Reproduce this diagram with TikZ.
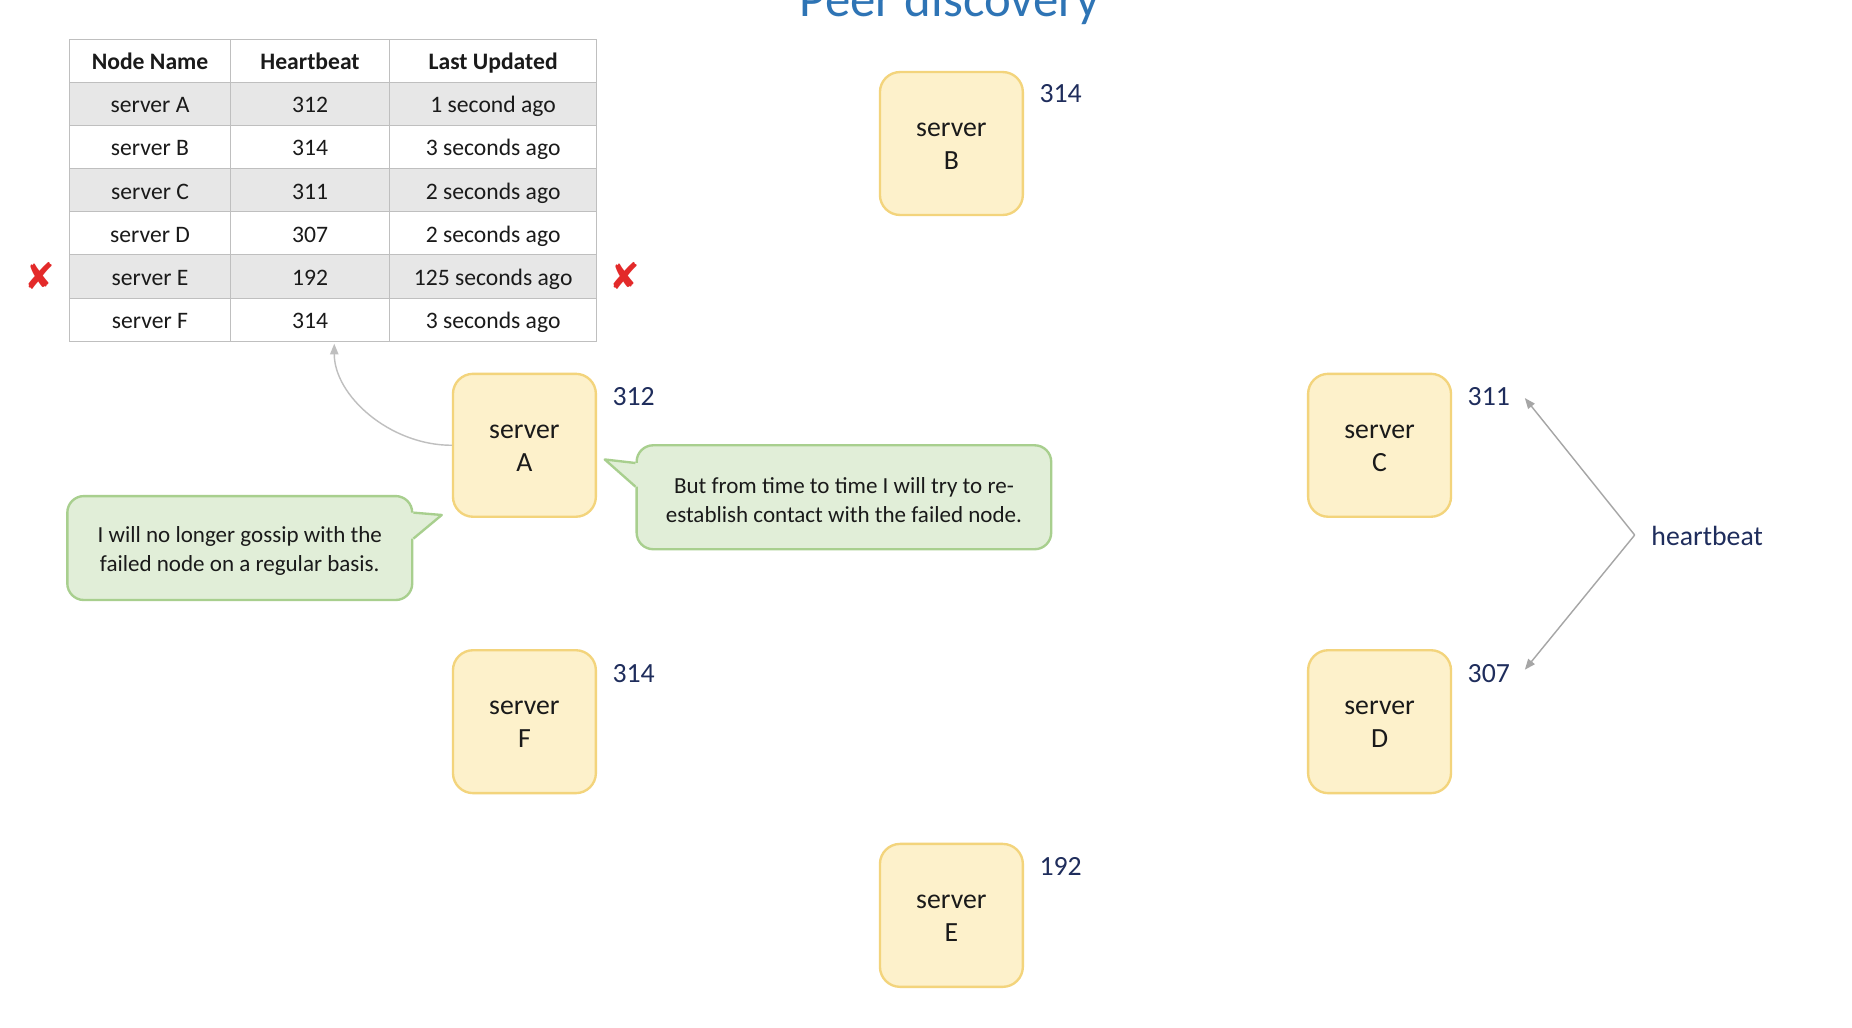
\documentclass[tikz,border=0pt]{standalone}
\usepackage{fontspec}
\setmainfont{Carlito}
\newfontfamily\dejavu{DejaVu Sans}
\usetikzlibrary{arrows.meta,calc}
\definecolor{boxfill}{HTML}{FDF1CB}
\definecolor{boxdraw}{HTML}{F3D47C}
\definecolor{callfill}{HTML}{E1EED8}
\definecolor{calldraw}{HTML}{A8CF8E}
\definecolor{numcol}{HTML}{1F2D5C}
\definecolor{titlecol}{HTML}{2E74B5}
\definecolor{gridcol}{HTML}{BFBFBF}
\definecolor{rowgray}{HTML}{E7E7E7}
\definecolor{linecol}{HTML}{A6A6A6}
\definecolor{xred}{HTML}{E32A2A}
\definecolor{txt}{HTML}{1A1A1A}
\begin{document}
\begin{tikzpicture}[x=1pt,y=-1pt,
  server/.style={draw=boxdraw,fill=boxfill,line width=2pt,rounded corners=17pt,minimum width=121pt,minimum height=121pt,inner sep=0pt},
  stxt/.style={align=center,font=\fontsize{23.5}{28}\selectfont,text=txt,inner sep=0pt,yshift=-2.5pt},
  num/.style={text=numcol,font=\fontsize{23.5}{28}\selectfont,inner sep=0pt},
  cell/.style={draw=gridcol,line width=0.8pt,minimum height=36.57pt,inner sep=0pt,text height=15pt,text depth=0pt,font=\fontsize{20}{24}\selectfont,text=txt},
  callout/.style={draw=calldraw,fill=callfill,line width=2pt,rounded corners=14pt,inner sep=0pt},
  ctxt/.style={align=center,font=\fontsize{19.5}{24}\selectfont,text=txt,inner sep=0pt,yshift=-2.5pt},
  link/.style={draw=linecol,line width=1.2pt,-{Triangle[length=9pt,width=7pt]}},
  xmark/.style={text=xred,font=\dejavu\fontsize{31}{34}\selectfont,inner sep=0pt},
]
\useasboundingbox (0,0) rectangle (1568,870);
\fill[white] (0,0) rectangle (1568,870);

% title (cut off at top, as in the reference)
\node[anchor=base,text=titlecol,font=\fontsize{43}{50}\selectfont,inner sep=0pt] (title) at (804,14) {Peer discovery};

% table header
\node[cell,fill=white,minimum width=136pt,font=\bfseries\fontsize{20}{24}\selectfont] (hd1) at (127,51.3) {Node Name};
\node[cell,fill=white,minimum width=135pt,font=\bfseries\fontsize{20}{24}\selectfont] (hd2) at (262.5,51.3) {Heartbeat};
\node[cell,fill=white,minimum width=175pt,font=\bfseries\fontsize{20}{24}\selectfont] (hd3) at (417.5,51.3) {Last Updated};
% table rows
\foreach \sv/\hb/\lu/\sh [count=\i] in {A/312/1 second ago/rowgray,B/314/3 seconds ago/white,C/311/2 seconds ago/rowgray,D/307/2 seconds ago/white,E/192/125 seconds ago/rowgray,F/314/3 seconds ago/white}{
  \pgfmathsetmacro\yy{33+36.571*(\i+0.5)}
  \node[cell,fill=\sh,minimum width=136pt] (n\sv) at (127,\yy) {server \sv};
  \node[cell,fill=\sh,minimum width=135pt] (h\sv) at (262.5,\yy) {\hb};
  \node[cell,fill=\sh,minimum width=175pt] (l\sv) at (417.5,\yy) {\lu};
}
\node[xmark] (xl) at (34,234) {✘};
\node[xmark] (xr) at (529,234) {✘};

% servers
\node[server,label={[stxt,name=Bt]center:{server\\B}}] (B) at (805.5,121.5) {};
\node[server,label={[stxt,name=At]center:{server\\A}}] (A) at (444,377) {};
\node[server,label={[stxt,name=Ct]center:{server\\C}}] (C) at (1168,377) {};
\node[server,label={[stxt,name=Ft]center:{server\\F}}] (F) at (444,611) {};
\node[server,label={[stxt,name=Dt]center:{server\\D}}] (D) at (1168,611) {};
\node[server,label={[stxt,name=Et]center:{server\\E}}] (E) at (805.5,775) {};

\node[num] (nB) at ($(B.north east)+(31,19.5)$) {314};
\node[num] (nA) at ($(A.north east)+(31,20.5)$) {312};
\node[num] (nC) at ($(C.north east)+(31,20.5)$) {311};
\node[num] (nF) at ($(F.north east)+(31,20.5)$) {314};
\node[num] (nD) at ($(D.north east)+(31,20.5)$) {307};
\node[num] (nE) at ($(E.north east)+(31,20.5)$) {192};

% update arrow from A to table
\coordinate (tipA) at (283,291);
\draw[link,draw=gridcol] (A.west) .. controls (330,377) and (283,335) .. (tipA);

% heartbeat
\node[num,anchor=west] (hb) at (1398,454) {heartbeat};
\coordinate (apex) at (1384,453);
\coordinate (tC) at (1291,337);
\coordinate (tD) at (1291,567);
\draw[link] (apex) -- (tC);
\draw[link] (apex) -- (tD);

% left callout
\node[callout,minimum width=292pt,minimum height=88pt,label={[ctxt,name=lct]center:{I will no longer gossip with the\\failed node on a regular basis.}}] (lc) at (203,464) {};
\fill[callfill] ($(lc.east)+(-2,-30)$) -- ($(lc.east)+(0,-30)$) -- ($(lc.east)+(24,-28)$) -- ($(lc.east)+(0,-8)$) -- ($(lc.east)+(-2,-8)$) -- cycle;
\draw[calldraw,line width=2pt,line join=round] ($(lc.east)+(0,-30)$) -- ($(lc.east)+(24,-28)$) -- ($(lc.east)+(0,-8)$);

% right callout
\node[callout,minimum width=351pt,minimum height=88pt,label={[ctxt,name=rct]center:{But from time to time I will try to re-\\establish contact with the failed node.}}] (rc) at (714.5,421) {};
\fill[callfill] ($(rc.west)+(2,-29)$) -- ($(rc.west)+(0,-29)$) -- ($(rc.west)+(-26,-32)$) -- ($(rc.west)+(0,-9)$) -- ($(rc.west)+(2,-9)$) -- cycle;
\draw[calldraw,line width=2pt,line join=round] ($(rc.west)+(0,-29)$) -- ($(rc.west)+(-26,-32)$) -- ($(rc.west)+(0,-9)$);
\end{tikzpicture}
\end{document}
